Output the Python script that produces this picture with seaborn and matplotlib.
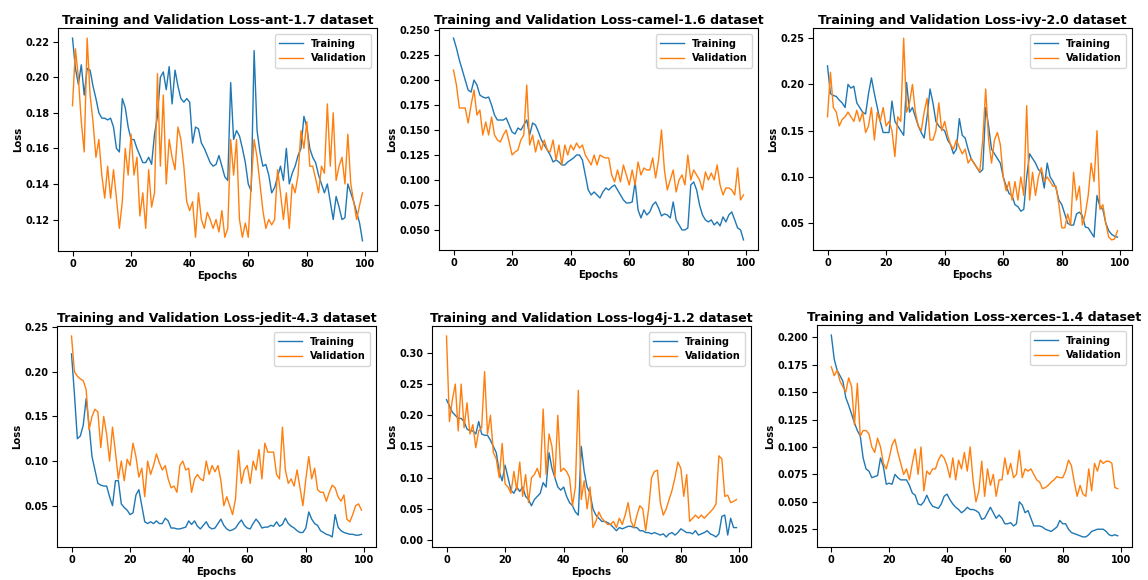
import matplotlib
matplotlib.use("Agg")
import matplotlib.pyplot as plt
import seaborn as sns

epochs = list(range(100))

ant_train = [0.222, 0.205, 0.196, 0.207, 0.190, 0.205, 0.204, 0.195, 0.188, 0.180,
             0.177, 0.177, 0.176, 0.177, 0.172, 0.160, 0.158, 0.188, 0.183, 0.172,
             0.165, 0.165, 0.160, 0.156, 0.152, 0.152, 0.155, 0.151, 0.168, 0.178,
             0.200, 0.203, 0.193, 0.206, 0.185, 0.204, 0.195, 0.188, 0.186, 0.188,
             0.186, 0.163, 0.172, 0.171, 0.163, 0.160, 0.156, 0.152, 0.150, 0.151,
             0.156, 0.150, 0.144, 0.142, 0.197, 0.165, 0.170, 0.167, 0.160, 0.152,
             0.140, 0.136, 0.215, 0.170, 0.158, 0.150, 0.151, 0.145, 0.135, 0.138,
             0.144, 0.150, 0.142, 0.160, 0.140, 0.146, 0.150, 0.156, 0.160, 0.178,
             0.172, 0.160, 0.155, 0.152, 0.145, 0.140, 0.135, 0.140, 0.130, 0.120,
             0.133, 0.127, 0.120, 0.121, 0.140, 0.135, 0.130, 0.124, 0.118, 0.108]
ant_val = [0.184, 0.216, 0.200, 0.175, 0.158, 0.222, 0.190, 0.175, 0.155, 0.165,
           0.145, 0.132, 0.150, 0.132, 0.148, 0.132, 0.115, 0.130, 0.160, 0.145,
           0.168, 0.145, 0.155, 0.122, 0.135, 0.115, 0.148, 0.127, 0.135, 0.202,
           0.150, 0.190, 0.140, 0.165, 0.155, 0.148, 0.172, 0.165, 0.150, 0.130,
           0.125, 0.130, 0.110, 0.135, 0.120, 0.115, 0.124, 0.120, 0.115, 0.120,
           0.113, 0.125, 0.110, 0.115, 0.165, 0.145, 0.165, 0.120, 0.110, 0.118,
           0.110, 0.140, 0.165, 0.155, 0.140, 0.125, 0.115, 0.120, 0.117, 0.120,
           0.148, 0.135, 0.120, 0.135, 0.115, 0.140, 0.135, 0.145, 0.170, 0.160,
           0.175, 0.150, 0.150, 0.143, 0.135, 0.150, 0.146, 0.185, 0.150, 0.180,
           0.142, 0.150, 0.155, 0.140, 0.168, 0.140, 0.130, 0.120, 0.128, 0.135]

camel_train = [0.242, 0.232, 0.220, 0.210, 0.200, 0.190, 0.188, 0.200, 0.195, 0.185,
               0.183, 0.182, 0.183, 0.175, 0.165, 0.160, 0.160, 0.160, 0.162, 0.155,
               0.148, 0.146, 0.152, 0.150, 0.155, 0.160, 0.145, 0.157, 0.155, 0.148,
               0.140, 0.135, 0.130, 0.125, 0.118, 0.120, 0.118, 0.115, 0.115, 0.118,
               0.120, 0.122, 0.125, 0.125, 0.120, 0.105, 0.090, 0.085, 0.088, 0.085,
               0.082, 0.088, 0.092, 0.090, 0.093, 0.095, 0.090, 0.085, 0.080, 0.077,
               0.077, 0.078, 0.098, 0.070, 0.062, 0.070, 0.065, 0.068, 0.075, 0.078,
               0.072, 0.064, 0.066, 0.065, 0.062, 0.078, 0.060, 0.055, 0.050, 0.050,
               0.052, 0.095, 0.098, 0.090, 0.075, 0.065, 0.060, 0.058, 0.060, 0.055,
               0.058, 0.054, 0.063, 0.058, 0.065, 0.068, 0.060, 0.052, 0.050, 0.040]
camel_val = [0.210, 0.195, 0.172, 0.172, 0.172, 0.157, 0.175, 0.190, 0.165, 0.170,
             0.145, 0.158, 0.145, 0.163, 0.145, 0.140, 0.138, 0.145, 0.150, 0.138,
             0.125, 0.128, 0.130, 0.140, 0.145, 0.195, 0.135, 0.145, 0.128, 0.140,
             0.130, 0.140, 0.130, 0.128, 0.140, 0.120, 0.135, 0.115, 0.135, 0.125,
             0.135, 0.130, 0.137, 0.132, 0.135, 0.125, 0.120, 0.115, 0.125, 0.115,
             0.125, 0.123, 0.122, 0.122, 0.105, 0.098, 0.110, 0.098, 0.115, 0.105,
             0.095, 0.110, 0.095, 0.118, 0.105, 0.112, 0.110, 0.110, 0.122, 0.102,
             0.120, 0.150, 0.110, 0.090, 0.100, 0.110, 0.088, 0.100, 0.105, 0.095,
             0.125, 0.100, 0.110, 0.105, 0.100, 0.090, 0.108, 0.100, 0.107, 0.100,
             0.115, 0.095, 0.085, 0.092, 0.092, 0.090, 0.085, 0.112, 0.080, 0.085]

ivy_train = [0.220, 0.190, 0.188, 0.187, 0.183, 0.180, 0.175, 0.200, 0.196, 0.198,
             0.180, 0.175, 0.170, 0.168, 0.190, 0.207, 0.190, 0.175, 0.160, 0.148,
             0.148, 0.148, 0.182, 0.160, 0.155, 0.150, 0.145, 0.202, 0.170, 0.175,
             0.165, 0.155, 0.148, 0.142, 0.165, 0.195, 0.180, 0.160, 0.155, 0.152,
             0.150, 0.140, 0.135, 0.125, 0.130, 0.163, 0.145, 0.142, 0.130, 0.120,
             0.115, 0.110, 0.105, 0.108, 0.175, 0.155, 0.130, 0.125, 0.120, 0.115,
             0.100, 0.090, 0.082, 0.080, 0.070, 0.068, 0.063, 0.065, 0.100, 0.125,
             0.120, 0.115, 0.108, 0.105, 0.088, 0.115, 0.100, 0.095, 0.088, 0.075,
             0.070, 0.060, 0.050, 0.048, 0.048, 0.060, 0.062, 0.058, 0.046, 0.045,
             0.040, 0.035, 0.080, 0.068, 0.065, 0.050, 0.042, 0.038, 0.036, 0.035]
ivy_val = [0.165, 0.213, 0.175, 0.170, 0.155, 0.162, 0.165, 0.170, 0.165, 0.160,
           0.172, 0.160, 0.170, 0.148, 0.155, 0.175, 0.140, 0.170, 0.160, 0.175,
           0.155, 0.160, 0.150, 0.122, 0.165, 0.160, 0.250, 0.170, 0.180, 0.200,
           0.170, 0.155, 0.150, 0.170, 0.185, 0.140, 0.140, 0.150, 0.180, 0.150,
           0.160, 0.145, 0.135, 0.130, 0.140, 0.132, 0.125, 0.130, 0.115, 0.120,
           0.115, 0.110, 0.106, 0.140, 0.195, 0.140, 0.115, 0.140, 0.148, 0.135,
           0.100, 0.085, 0.095, 0.075, 0.095, 0.075, 0.100, 0.080, 0.177, 0.075,
           0.105, 0.080, 0.100, 0.110, 0.095, 0.100, 0.095, 0.090, 0.090, 0.070,
           0.045, 0.045, 0.060, 0.048, 0.105, 0.075, 0.090, 0.048, 0.060, 0.080,
           0.115, 0.095, 0.150, 0.065, 0.070, 0.050, 0.035, 0.032, 0.033, 0.042]

jedit_train = [0.220, 0.175, 0.125, 0.128, 0.140, 0.170, 0.140, 0.105, 0.090, 0.075,
               0.073, 0.072, 0.072, 0.060, 0.050, 0.078, 0.078, 0.052, 0.048, 0.045,
               0.040, 0.042, 0.062, 0.068, 0.050, 0.032, 0.030, 0.032, 0.030, 0.033,
               0.030, 0.030, 0.036, 0.033, 0.025, 0.025, 0.024, 0.024, 0.025, 0.026,
               0.033, 0.029, 0.033, 0.027, 0.024, 0.028, 0.032, 0.026, 0.024, 0.025,
               0.030, 0.035, 0.028, 0.024, 0.022, 0.023, 0.025, 0.030, 0.034, 0.028,
               0.025, 0.024, 0.030, 0.035, 0.031, 0.025, 0.026, 0.026, 0.028, 0.027,
               0.032, 0.027, 0.029, 0.036, 0.030, 0.027, 0.025, 0.022, 0.020, 0.020,
               0.025, 0.043, 0.035, 0.030, 0.028, 0.022, 0.020, 0.018, 0.017, 0.015,
               0.040, 0.026, 0.022, 0.020, 0.019, 0.018, 0.018, 0.017, 0.017, 0.018]
jedit_val = [0.240, 0.200, 0.195, 0.192, 0.190, 0.180, 0.135, 0.150, 0.158, 0.155,
             0.115, 0.150, 0.130, 0.100, 0.138, 0.110, 0.080, 0.100, 0.078, 0.102,
             0.095, 0.120, 0.105, 0.082, 0.092, 0.060, 0.100, 0.085, 0.095, 0.108,
             0.098, 0.090, 0.095, 0.080, 0.070, 0.072, 0.065, 0.095, 0.100, 0.090,
             0.092, 0.065, 0.080, 0.085, 0.080, 0.078, 0.100, 0.085, 0.095, 0.088,
             0.095, 0.078, 0.050, 0.060, 0.050, 0.040, 0.058, 0.112, 0.075, 0.090,
             0.095, 0.075, 0.100, 0.090, 0.113, 0.080, 0.120, 0.110, 0.110, 0.110,
             0.085, 0.080, 0.138, 0.090, 0.075, 0.080, 0.072, 0.090, 0.070, 0.050,
             0.080, 0.105, 0.080, 0.092, 0.068, 0.065, 0.065, 0.055, 0.065, 0.073,
             0.070, 0.060, 0.055, 0.062, 0.035, 0.032, 0.040, 0.050, 0.052, 0.045]

log4j_train = [0.225, 0.215, 0.205, 0.200, 0.195, 0.195, 0.190, 0.178, 0.175, 0.175,
               0.170, 0.190, 0.170, 0.168, 0.168, 0.160, 0.150, 0.140, 0.110, 0.095,
               0.120, 0.100, 0.080, 0.075, 0.085, 0.078, 0.085, 0.070, 0.065, 0.055,
               0.065, 0.070, 0.075, 0.092, 0.085, 0.140, 0.115, 0.100, 0.085, 0.080,
               0.085, 0.070, 0.060, 0.055, 0.045, 0.040, 0.150, 0.110, 0.085, 0.075,
               0.050, 0.040, 0.035, 0.030, 0.030, 0.028, 0.025, 0.020, 0.015, 0.020,
               0.018, 0.020, 0.022, 0.022, 0.020, 0.020, 0.015, 0.015, 0.012, 0.012,
               0.010, 0.012, 0.010, 0.008, 0.010, 0.005, 0.010, 0.012, 0.008, 0.012,
               0.018, 0.015, 0.012, 0.012, 0.010, 0.015, 0.008, 0.010, 0.012, 0.015,
               0.010, 0.008, 0.005, 0.010, 0.038, 0.040, 0.008, 0.035, 0.020, 0.020]
log4j_val = [0.327, 0.190, 0.225, 0.250, 0.175, 0.250, 0.180, 0.220, 0.170, 0.185,
             0.148, 0.175, 0.180, 0.270, 0.170, 0.200, 0.140, 0.130, 0.100, 0.155,
             0.090, 0.085, 0.075, 0.110, 0.080, 0.125, 0.070, 0.105, 0.060, 0.100,
             0.105, 0.115, 0.100, 0.210, 0.105, 0.170, 0.150, 0.100, 0.200, 0.110,
             0.115, 0.110, 0.100, 0.055, 0.085, 0.240, 0.065, 0.095, 0.050, 0.085,
             0.020, 0.030, 0.045, 0.035, 0.030, 0.025, 0.025, 0.030, 0.020, 0.035,
             0.025, 0.040, 0.060, 0.030, 0.020, 0.040, 0.055, 0.050, 0.015, 0.050,
             0.100, 0.110, 0.112, 0.060, 0.040, 0.050, 0.065, 0.080, 0.100, 0.125,
             0.115, 0.070, 0.105, 0.030, 0.035, 0.040, 0.035, 0.040, 0.035, 0.040,
             0.045, 0.050, 0.058, 0.135, 0.130, 0.070, 0.072, 0.060, 0.062, 0.065]

xerces_train = [0.202, 0.180, 0.170, 0.165, 0.160, 0.145, 0.138, 0.130, 0.122, 0.115,
                0.110, 0.090, 0.080, 0.078, 0.072, 0.073, 0.074, 0.090, 0.082, 0.066,
                0.067, 0.066, 0.075, 0.072, 0.070, 0.070, 0.070, 0.065, 0.058, 0.056,
                0.048, 0.047, 0.050, 0.056, 0.050, 0.046, 0.045, 0.044, 0.048, 0.055,
                0.057, 0.052, 0.048, 0.045, 0.043, 0.040, 0.042, 0.045, 0.043, 0.043,
                0.042, 0.040, 0.034, 0.035, 0.040, 0.045, 0.040, 0.035, 0.038, 0.035,
                0.030, 0.030, 0.031, 0.028, 0.030, 0.050, 0.047, 0.040, 0.042, 0.035,
                0.028, 0.028, 0.028, 0.027, 0.025, 0.024, 0.023, 0.025, 0.027, 0.033,
                0.030, 0.030, 0.025, 0.022, 0.021, 0.020, 0.019, 0.018, 0.018, 0.020,
                0.023, 0.024, 0.025, 0.025, 0.025, 0.023, 0.020, 0.019, 0.020, 0.019]
xerces_val = [0.173, 0.165, 0.170, 0.160, 0.155, 0.150, 0.163, 0.155, 0.120, 0.158,
              0.110, 0.115, 0.115, 0.112, 0.100, 0.095, 0.108, 0.100, 0.085, 0.080,
              0.090, 0.102, 0.107, 0.095, 0.085, 0.075, 0.080, 0.070, 0.085, 0.098,
              0.075, 0.100, 0.060, 0.078, 0.075, 0.080, 0.080, 0.088, 0.093, 0.090,
              0.083, 0.072, 0.090, 0.070, 0.088, 0.080, 0.095, 0.078, 0.100, 0.070,
              0.050, 0.060, 0.087, 0.055, 0.080, 0.065, 0.075, 0.055, 0.070, 0.070,
              0.090, 0.075, 0.085, 0.072, 0.075, 0.097, 0.072, 0.080, 0.078, 0.080,
              0.075, 0.070, 0.068, 0.062, 0.063, 0.065, 0.068, 0.070, 0.073, 0.072,
              0.072, 0.078, 0.088, 0.083, 0.068, 0.055, 0.065, 0.057, 0.055, 0.080,
              0.060, 0.085, 0.078, 0.088, 0.085, 0.087, 0.087, 0.085, 0.063, 0.062]

datasets = ["ant-1.7", "camel-1.6", "ivy-2.0", "jedit-4.3", "log4j-1.2", "xerces-1.4"]
train_series = [ant_train, camel_train, ivy_train, jedit_train, log4j_train, xerces_train]
val_series = [ant_val, camel_val, ivy_val, jedit_val, log4j_val, xerces_val]

# axes rectangles in pixels: (left, top, width, height)
W, H = 1148, 580
boxes_px = [(58, 28, 319, 223), (439, 28, 319, 222), (813, 28, 319, 222),
            (57, 326, 319, 221), (432, 326, 319, 221), (817, 325, 315, 222)]

plt.rcParams["font.family"] = ["DejaVu Sans"]
plt.rcParams["font.weight"] = "bold"

fig = plt.figure(figsize=(W / 100, H / 100), dpi=100)
blue, orange = "#1f77b4", "#ff7f0e"

for name, tr, va, (l, t, w, h) in zip(datasets, train_series, val_series, boxes_px):
    ax = fig.add_axes([l / W, 1 - (t + h) / H, w / W, h / H])
    sns.lineplot(x=epochs, y=tr, ax=ax, color=blue, linewidth=1.0, label="Training")
    sns.lineplot(x=epochs, y=va, ax=ax, color=orange, linewidth=1.0, label="Validation")
    ax.set_title(f"Training and Validation Loss-{name} dataset",
                 fontsize=9, fontweight="bold", pad=3)
    ax.set_xlabel("Epochs", fontsize=7.3, fontweight="bold", labelpad=1)
    ax.set_ylabel("Loss", fontsize=7.3, fontweight="bold", labelpad=2)
    ax.tick_params(labelsize=7, length=3.5, width=0.8, pad=2.5)
    ax.set_xticks([0, 20, 40, 60, 80, 100])
    ax.legend(loc="upper right", fontsize=7, frameon=True, handlelength=2.4,
              borderpad=0.5, labelspacing=0.45, borderaxespad=0.6)
    for s in ax.spines.values():
        s.set_linewidth(0.8)

fig.savefig("out.png", dpi=100)
